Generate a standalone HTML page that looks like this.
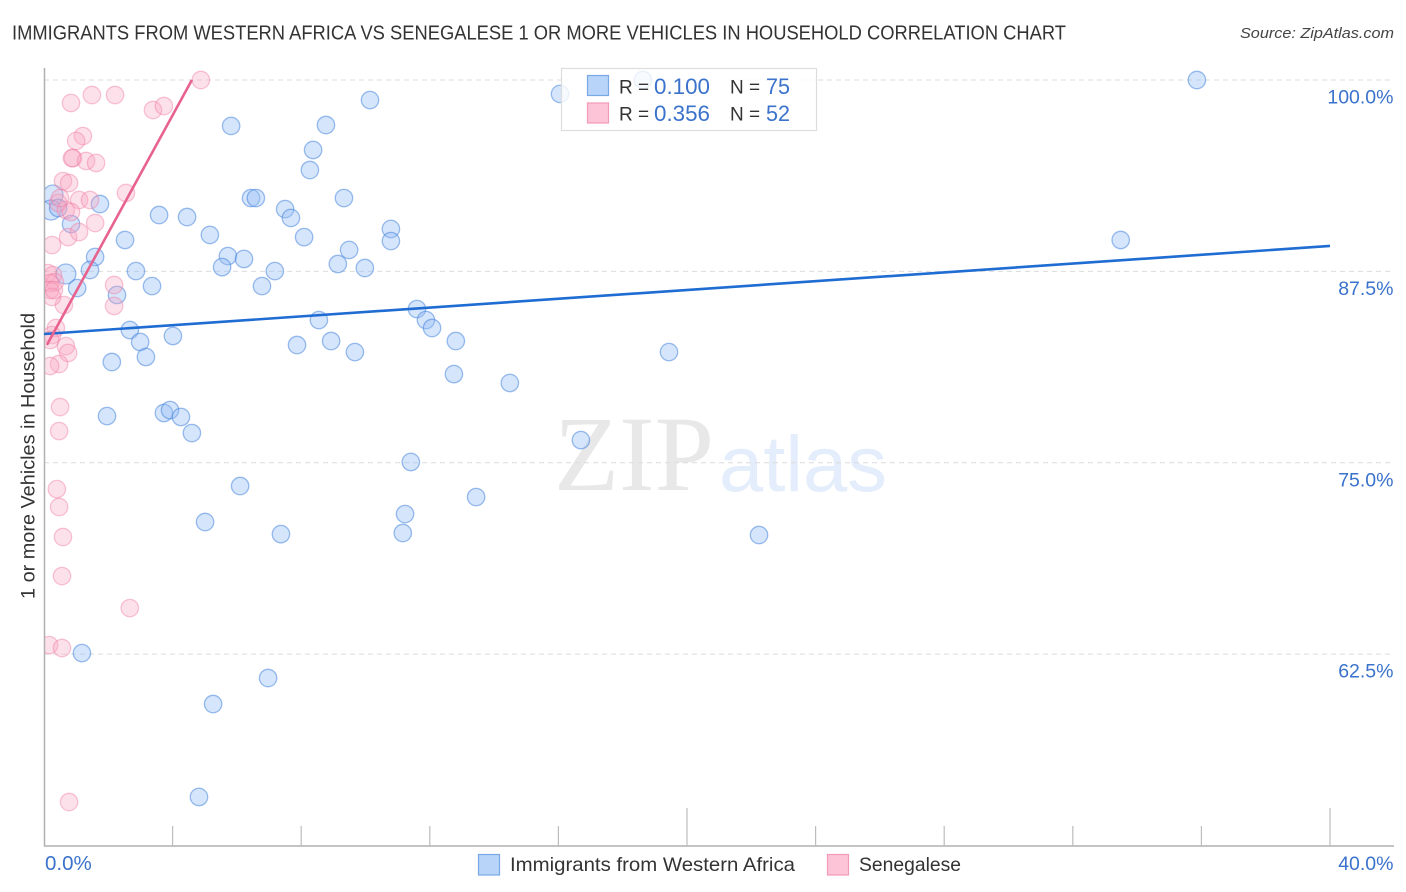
<!DOCTYPE html>
<html lang="en">
<head>
<meta charset="utf-8">
<title>Immigrants from Western Africa vs Senegalese correlation chart</title>
<style>
html,body{margin:0;padding:0;background:#fff;width:1406px;height:892px;overflow:hidden}
svg{display:block;font-family:"Liberation Sans",sans-serif}
</style>
</head>
<body>
<svg id="chart" width="1406" height="892" viewBox="0 0 1406 892" xmlns="http://www.w3.org/2000/svg">
  <defs><clipPath id="plot-clip"><rect x="45" y="60" width="1360" height="785"/></clipPath></defs>
  <text x="12" y="39.500" font-size="20" fill="#333" textLength="1054" lengthAdjust="spacingAndGlyphs">IMMIGRANTS FROM WESTERN AFRICA VS SENEGALESE 1 OR MORE VEHICLES IN HOUSEHOLD CORRELATION CHART</text>
  <text x="1394" y="38" font-size="15" font-style="italic" fill="#444" text-anchor="end" textLength="154" lengthAdjust="spacingAndGlyphs">Source: ZipAtlas.com</text>
  <text x="554" y="490" font-family="Liberation Serif, serif" font-size="107" fill="#e8e8e8" textLength="160" lengthAdjust="spacingAndGlyphs">ZIP</text>
  <text x="719" y="491" font-size="79" fill="#e3edfb" textLength="168" lengthAdjust="spacingAndGlyphs">atlas</text>
  <g id="grid"></g>
  <g id="axes"></g>
  <g id="points" clip-path="url(#plot-clip)"></g>
  <g id="trends"></g>
  <g id="labels"></g>
  <text transform="translate(34.500,456) rotate(-90)" font-size="19.500" fill="#333" text-anchor="middle" textLength="286" lengthAdjust="spacingAndGlyphs">1 or more Vehicles in Household</text>

  <g>
    <rect x="561.500" y="68.500" width="255" height="62" fill="#fff" fill-opacity="0.8" stroke="#ddd" stroke-width="1.200"/>
    <rect x="587.500" y="75.500" width="21" height="20" fill="#b8d4f8" stroke="#79a8e6" stroke-width="1.200"/>
    <rect x="587.500" y="103" width="21" height="20" fill="#fcc4d6" stroke="#f29ab8" stroke-width="1.200"/>
    <text x="619" y="93.500" font-size="19" fill="#333">R =</text>
    <text x="654" y="94" font-size="22" fill="#3a72cc" textLength="56" lengthAdjust="spacingAndGlyphs">0.100</text>
    <text x="730" y="93.500" font-size="19" fill="#333">N =</text>
    <text x="766" y="94" font-size="22" fill="#3a72cc" textLength="24" lengthAdjust="spacingAndGlyphs">75</text>
    <text x="619" y="120.500" font-size="19" fill="#333">R =</text>
    <text x="654" y="121" font-size="22" fill="#3a72cc" textLength="56" lengthAdjust="spacingAndGlyphs">0.356</text>
    <text x="730" y="120.500" font-size="19" fill="#333">N =</text>
    <text x="766" y="121" font-size="22" fill="#3a72cc" textLength="24" lengthAdjust="spacingAndGlyphs">52</text>
  </g>

  <g>
    <rect x="478.500" y="854.500" width="21" height="20.500" fill="#b8d4f8" stroke="#79a8e6" stroke-width="1.200"/>
    <text x="510" y="871" font-size="19.500" fill="#333" textLength="285" lengthAdjust="spacingAndGlyphs">Immigrants from Western Africa</text>
    <rect x="827.500" y="854.500" width="21" height="20.500" fill="#fcc4d6" stroke="#f29ab8" stroke-width="1.200"/>
    <text x="859" y="871" font-size="19.500" fill="#333" textLength="102" lengthAdjust="spacingAndGlyphs">Senegalese</text>
  </g>
</svg>
<script>
const yTickValues = [100, 87.5, 75, 62.5];
const yTickLabels = ["100.0%", "87.5%", "75.0%", "62.5%"];
const xTickValues = [4, 8, 12, 16, 20, 24, 28, 32, 36, 40];
const xMajorTicks = [20, 40];
const xEndLabels = ["0.0%", "40.0%"];

const blueX = [35.86,18.63,16.05,10.14,5.82,8.77,8.37,8.27,9.33,6.44,6.59,7.50,7.68,8.09,10.79,10.79,3.58,4.45,5.16,2.52,1.74,1.59,5.72,6.22,5.54,2.86,1.43,1.03,3.36,2.27,7.18,6.78,9.14,9.98,9.49,33.49,11.60,11.88,12.07,8.55,12.81,7.87,8.93,9.67,4.01,2.67,2.99,3.17,2.11,12.75,14.49,19.44,1.96,3.73,3.92,4.26,4.60,16.70,11.41,6.10,13.44,11.23,11.16,5.01,7.37,22.24,1.18,6.97,5.26,4.82,0.68,0.28,0.22,0.44,0.84];
const blueY = [100,100,99.09,98.69,97.00,97.06,95.43,94.12,92.29,92.29,92.29,91.57,90.99,89.74,90.27,89.48,91.18,91.05,89.88,89.55,91.90,88.44,88.50,88.31,87.78,87.52,87.59,86.41,86.54,85.96,87.52,86.54,87.98,87.72,88.90,89.55,85.04,84.32,83.80,84.32,82.95,82.69,82.95,82.23,83.28,83.67,82.89,81.91,81.58,80.79,80.21,82.23,78.05,78.25,78.44,77.99,76.94,76.48,75.05,73.48,72.76,71.65,70.41,71.13,70.34,70.28,62.57,60.94,59.24,53.17,87.33,92.49,91.51,91.64,90.59];
const blueLargeIndices = [70, 71, 72];

const pinkX = [4.88,1.49,2.21,0.84,3.39,3.73,1.21,1.00,0.90,0.87,1.31,1.62,0.59,0.78,2.55,1.09,1.43,0.44,0.68,0.84,0.50,0.75,1.09,1.59,0.25,2.18,2.18,0.62,0.12,0.28,0.34,0.19,0.19,0.25,0.37,0.25,0.19,0.68,0.75,0.47,0.19,0.50,0.47,0.40,0.47,0.59,0.56,2.67,0.16,0.56,0.78,0.31];
const pinkY = [100,99.02,99.02,98.50,98.04,98.30,96.34,96.02,94.90,94.90,94.71,94.58,93.40,93.27,92.62,92.16,92.16,91.97,91.51,91.38,92.29,89.74,90.07,90.66,89.22,86.61,85.24,85.30,87.39,87.26,86.80,86.74,86.28,85.83,83.80,83.34,83.02,82.62,82.17,81.45,81.32,78.64,77.07,73.28,72.11,70.15,67.60,65.51,63.09,62.90,52.84,86.28];

const blueTrendX = [0, 40];
const blueTrendY = [83.41, 89.16];
const pinkTrendX = [0.09, 4.60];
const pinkTrendY = [82.69, 100];

const NS = 'http://www.w3.org/2000/svg';
function xScale(v) { return 44 + v * 32.15; }
function yScale(v) { return 80 + (100 - v) * 15.31; }
function make(tag, parent, attrs, text) {
  const el = document.createElementNS(NS, tag);
  for (const k in attrs) el.setAttribute(k, attrs[k]);
  if (text !== undefined) el.textContent = text;
  parent.appendChild(el);
  return el;
}

const grid = document.getElementById('grid');
const axes = document.getElementById('axes');
const labels = document.getElementById('labels');
const points = document.getElementById('points');
const trends = document.getElementById('trends');

yTickValues.forEach(function (v, i) {
  const y = yScale(v);
  const line = make('line', grid, {x1: 44, x2: 1393, y1: y, y2: y, stroke: '#dcdcdc', 'stroke-width': 1, 'stroke-dasharray': '5 4'});
  
  
  const t = make('text', labels, {x: 1393.500, y: y + 23.500, 'font-size': 19.500, fill: '#3a72cc', 'text-anchor': 'end'}, yTickLabels[i]);
  
  
});

const yAxis = make('line', axes, {x1: 44.500, x2: 44.500, y1: 68, y2: 846.500, stroke: '#b0b0b0', 'stroke-width': 1.500});


const xAxis = make('line', axes, {x1: 44, x2: 1394, y1: 846, y2: 846, stroke: '#b0b0b0', 'stroke-width': 1.500});



xTickValues.forEach(function (v) {
  const x = xScale(v);
  const top = xMajorTicks.indexOf(v) >= 0 ? 808 : 826;
  const tick = make('line', axes, {x1: x, x2: x, y1: top, y2: 846, stroke: '#bdbdbd', 'stroke-width': 1.200});
  
  
});

const xLabelLeft = make('text', labels, {x: 45, y: 870, 'font-size': 20.500, fill: '#3a72cc'}, xEndLabels[0]);


const xLabelRight = make('text', labels, {x: 1393.500, y: 870, 'font-size': 19.500, fill: '#3a72cc', 'text-anchor': 'end'}, xEndLabels[1]);



blueX.forEach(function (v, i) {
  const r = blueLargeIndices.indexOf(i) >= 0 ? 10 : 8.700;
  const c = make('circle', points, {cx: xScale(v), cy: yScale(blueY[i]), r: r, fill: 'rgba(150,190,245,0.4)', stroke: 'rgba(60,125,220,0.5)', 'stroke-width': 1.300});
  
  
});

pinkX.forEach(function (v, i) {
  const c = make('circle', points, {cx: xScale(v), cy: yScale(pinkY[i]), r: 8.700, fill: 'rgba(248,165,190,0.33)', stroke: 'rgba(238,120,160,0.42)', 'stroke-width': 1.300});
  
  
});

const blueTrend = make('line', trends, {x1: xScale(blueTrendX[0]), y1: yScale(blueTrendY[0]), x2: xScale(blueTrendX[1]), y2: yScale(blueTrendY[1]), stroke: '#1f6cd2', 'stroke-width': 2.600});


const pinkTrend = make('line', trends, {x1: xScale(pinkTrendX[0]), y1: yScale(pinkTrendY[0]), x2: xScale(pinkTrendX[1]), y2: yScale(pinkTrendY[1]), stroke: '#e8628f', 'stroke-width': 2.600});


</script>
</body>
</html>
